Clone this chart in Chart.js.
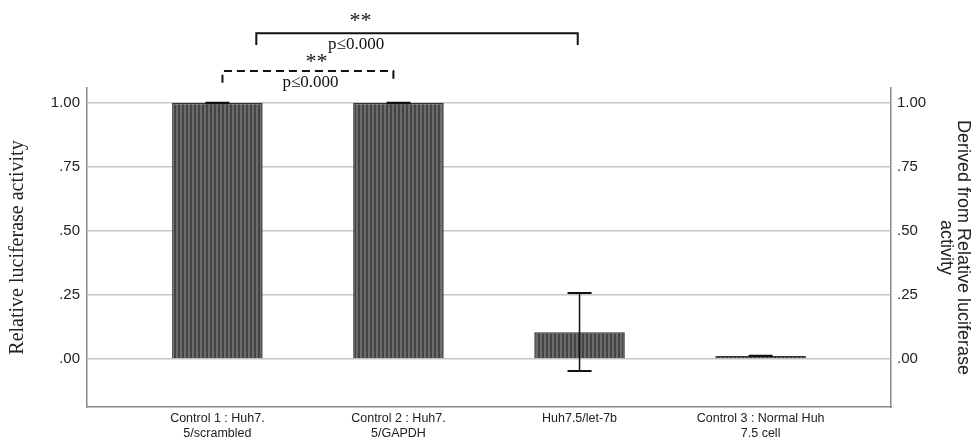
<!DOCTYPE html>
<html>
<head>
<meta charset="utf-8">
<script src="https://cdn.jsdelivr.net/npm/chart.js@4/dist/chart.umd.min.js"></script>
<style>
  html, body { margin: 0; padding: 0; background: #fff; }
  #wrap { width: 974px; height: 448px; }
</style>
</head>
<body>
<div id="wrap"><canvas id="chart"></canvas></div>
<script>
// categories (multi-line tick labels)
const categories = [
    ['Control 1 : Huh7.', '5/scrambled'],
    ['Control 2 : Huh7.', '5/GAPDH'],
    ['Huh7.5/let-7b'],
    ['Control 3 : Normal Huh', '7.5 cell']
];
// bar means and error bar ends
const means = [1.0, 1.0, 0.105, 0.012];
const errLow = [0.999, 0.999, -0.047, 0.0115];
const errHigh = [1.001, 1.001, 0.258, 0.0125];
const yTicks = [0, 0.25, 0.5, 0.75, 1.0];

// significance brackets: [from, to] in category units, y in data units
const brackets = [
    { from: 0.215, to: 1.99, y: 1.273, drop: 1.227, dashed: false,
      star: { x: 0.79, y: 1.318 }, label: { x: 0.766, y: 1.23 } },
    { from: 0.028, to: 0.972, y: 1.125, drop: 1.08, dashed: true,
      star: { x: 0.547, y: 1.158 }, label: { x: 0.514, y: 1.082 } }
];

// striped fill for the bars
function stripePattern() {
    const c = document.createElement('canvas');
    c.width = 4; c.height = 4;
    const g = c.getContext('2d');
    g.fillStyle = '#6c6c6c';
    g.fillRect(0, 0, 4, 4);
    g.fillStyle = '#444444';
    g.fillRect(2, 0, 2, 4);
    return g.createPattern(c, 'repeat');
}

const fmtY = v => (v === 1 ? '1.00' : v.toFixed(2).replace(/^0/, ''));

const extrasPlugin = {
    id: 'extras',
    afterDraw(chart) {
        const ctx = chart.ctx;
        const xs = chart.scales.x;
        const ys = chart.scales.y;

        // error bars
        ctx.save();
        ctx.strokeStyle = '#111';
        for (let i = 0; i < means.length; i++) {
            const x = xs.getPixelForValue(i);
            const yl = ys.getPixelForValue(errLow[i]);
            const yh = ys.getPixelForValue(errHigh[i]);
            ctx.lineWidth = 1.5;
            ctx.beginPath();
            ctx.moveTo(x, yl); ctx.lineTo(x, yh);
            ctx.stroke();
            ctx.lineWidth = 2;
            ctx.beginPath();
            ctx.moveTo(x - 12, yl); ctx.lineTo(x + 12, yl);
            ctx.moveTo(x - 12, yh); ctx.lineTo(x + 12, yh);
            ctx.stroke();
        }
        ctx.restore();

        // brackets
        ctx.save();
        ctx.strokeStyle = '#111';
        ctx.fillStyle = '#111';
        ctx.lineWidth = 2;
        ctx.textAlign = 'center';
        ctx.textBaseline = 'middle';
        brackets.forEach(b => {
            const x1 = xs.getPixelForValue(b.from);
            const x2 = xs.getPixelForValue(b.to);
            const y = ys.getPixelForValue(b.y);
            const yd = ys.getPixelForValue(b.drop);
            ctx.setLineDash(b.dashed ? [8, 5] : []);
            ctx.beginPath();
            ctx.moveTo(x1, yd); ctx.lineTo(x1, y); ctx.lineTo(x2, y); ctx.lineTo(x2, yd);
            ctx.stroke();
            ctx.setLineDash([]);
            ctx.font = '22px "Liberation Serif", "Times New Roman", serif';
            ctx.fillText('**', xs.getPixelForValue(b.star.x), ys.getPixelForValue(b.star.y));
            ctx.font = '17px "Liberation Serif", "Times New Roman", serif';
            ctx.fillText('p≤0.000', xs.getPixelForValue(b.label.x), ys.getPixelForValue(b.label.y));
        });
        ctx.restore();
    }
};

const tickFont = { family: '"Liberation Sans", Arial, sans-serif', size: 15 };

new Chart(document.getElementById('chart').getContext('2d'), {
    type: 'bar',
    data: {
        datasets: [{
            data: means.map((v, i) => ({ x: i, y: v })),
            backgroundColor: stripePattern(),
            borderColor: '#333333',
            borderWidth: 1.5,
            barPercentage: 0.5,
            categoryPercentage: 1.0
        }]
    },
    options: {
        responsive: true,
        maintainAspectRatio: false,
        animation: false,
        layout: { padding: { top: 88 } },
        plugins: {
            legend: { display: false },
            tooltip: { enabled: false }
        },
        scales: {
            x: {
                type: 'linear',
                offset: false,
                min: -0.72,
                max: 3.72,
                afterBuildTicks: scale => { scale.ticks = categories.map((c, i) => ({ value: i })); },
                afterFit: scale => { scale.height = 41; },
                grid: { display: false, drawTicks: false },
                border: { display: true, color: '#8a8a8a', width: 1.5 },
                ticks: {
                    autoSkip: false,
                    maxRotation: 0,
                    padding: 4,
                    color: '#222',
                    font: { family: '"Liberation Sans Narrow", "Arial Narrow", "Liberation Sans", sans-serif', size: 12.5, lineHeight: 1.2 },
                    callback: v => categories[v]
                }
            },
            y: {
                position: 'left',
                min: -0.1875,
                max: 1.059,
                afterBuildTicks: scale => { scale.ticks = yTicks.map(v => ({ value: v })); },
                afterFit: scale => { scale.width = 87; },
                grid: { color: '#c6c6c6', lineWidth: 1.5, drawTicks: false },
                border: { display: true, color: '#8a8a8a', width: 1.5 },
                ticks: { padding: 7, color: '#222', font: tickFont, callback: fmtY },
                title: {
                    display: true,
                    text: 'Relative luciferase activity',
                    color: '#222',
                    padding: { top: 6, bottom: 0 },
                    font: { family: '"Liberation Serif", "Times New Roman", serif', size: 20 }
                }
            },
            y2: {
                position: 'right',
                min: -0.1875,
                max: 1.059,
                afterBuildTicks: scale => { scale.ticks = yTicks.map(v => ({ value: v })); },
                afterFit: scale => { scale.width = 83; },
                grid: { display: false, drawTicks: false },
                border: { display: true, color: '#8a8a8a', width: 1.5 },
                ticks: { padding: 6, color: '#222', font: tickFont, callback: fmtY },
                title: {
                    display: true,
                    text: ['Derived from Relative luciferase', 'activity'],
                    color: '#222',
                    padding: { top: 2, bottom: 0 },
                    font: { family: '"Liberation Sans", Arial, sans-serif', size: 18, lineHeight: 0.95 }
                }
            }
        }
    },
    plugins: [extrasPlugin]
});
</script>
</body>
</html>
